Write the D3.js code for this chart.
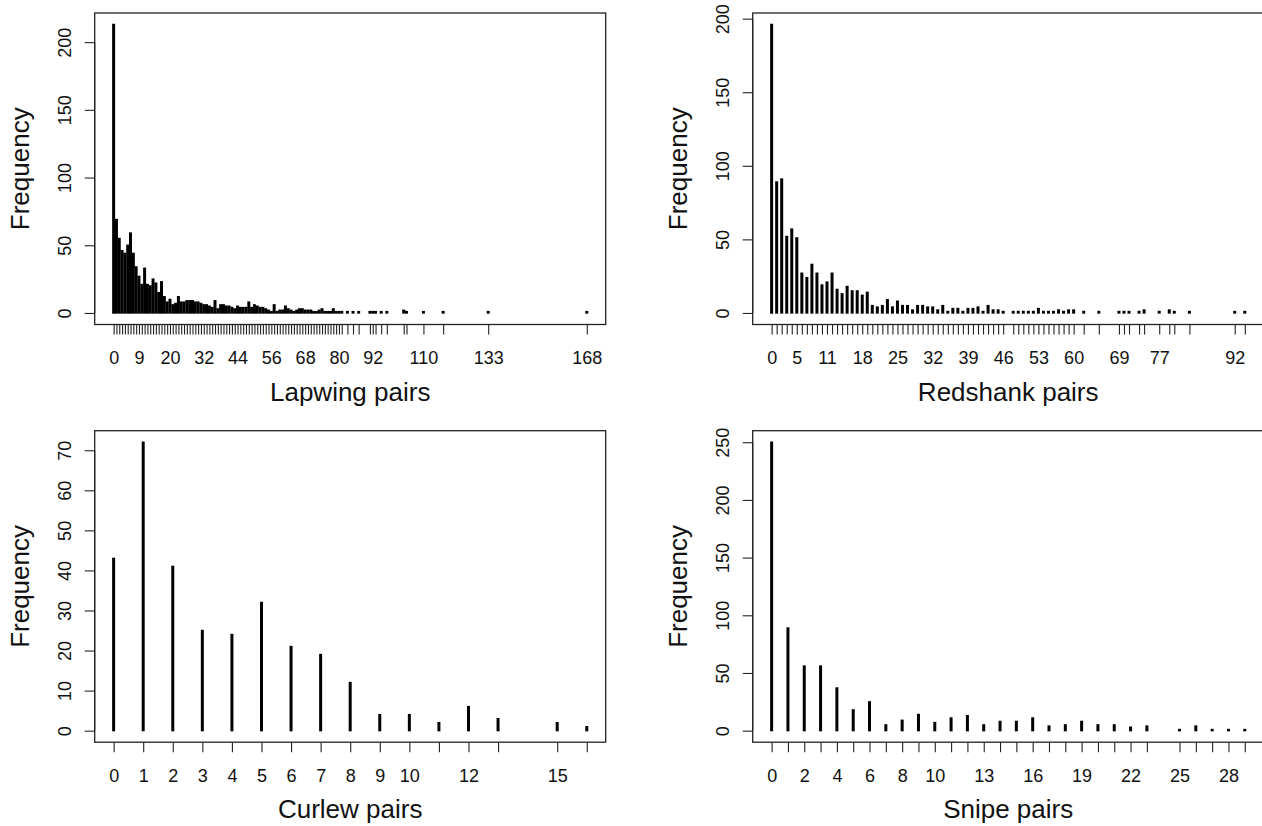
<!DOCTYPE html>
<head>
    <meta charset="utf-8">
    <title>Wader pairs frequency</title>
    <script type="text/javascript" src="https://d3js.org/d3.v7.min.js"></script>
    <style>
        body { margin: 0; background: #fff; }
        text { font-family: "Liberation Sans", Arial, sans-serif; fill: #111; }
    </style>
</head>
<body>
<div id="container"></div>

<script>
    //------------------------1. DATA------------------------//
    // Lapwing: every observed number of pairs and how often it occurs
    const lapwingPairs = d3.range(0, 82).concat([83, 85, 87, 91, 92, 93, 95, 97, 103, 104, 110, 117, 133, 168]);
    const lapwingFreq = [213, 69, 55, 46, 44, 50, 59, 44, 34, 27,
        21, 33, 21, 20, 25, 22, 15, 23, 12, 8,
        10, 6, 7, 12, 8, 8, 9, 9, 9, 8,
        8, 7, 6, 6, 5, 4, 9, 3, 6, 6,
        5, 5, 4, 3, 5, 4, 4, 4, 8, 4,
        6, 5, 4, 4, 3, 2, 1, 6, 1, 2,
        2, 5, 3, 2, 1, 2, 3, 3, 2, 2,
        2, 1, 1, 2, 3, 1, 1, 1, 3, 1,
        1, 1,
        1, 1, 1, 1, 1, 1, 1, 1, 2, 1, 1, 1, 1, 1];
    const lapwingLabels = [0, 9, 20, 32, 44, 56, 68, 80, 92, 110, 133, 168];
    const lapwingYTicks = [0, 50, 100, 150, 200];

    // Redshank
    const redshankPairs = d3.range(0, 47).concat(d3.range(48, 61), [62, 65, 69, 70, 71, 73, 74, 77, 79, 80, 83, 92, 94]);
    const redshankFreq = [196, 89, 91, 52, 57, 51, 27, 24, 33, 27,
        19, 21, 27, 16, 13, 18, 15, 15, 12, 14,
        5, 4, 5, 9, 4, 8, 5, 5, 2, 5,
        5, 4, 4, 2, 5, 1, 3, 3, 1, 3,
        3, 4, 1, 5, 2, 2, 1,
        1, 1, 1, 1, 1, 3, 1, 1, 1, 2, 1, 2, 2,
        1, 1, 1, 1, 1, 1, 2, 1, 2, 1, 1, 1, 1];
    const redshankLabels = [0, 5, 11, 18, 25, 32, 39, 46, 53, 60, 69, 77, 92];
    const redshankYTicks = [0, 50, 100, 150, 200];

    // Curlew
    const curlewPairs = [0, 1, 2, 3, 4, 5, 6, 7, 8, 9, 10, 11, 12, 13, 15, 16];
    const curlewFreq = [43, 72, 41, 25, 24, 32, 21, 19, 12, 4, 4, 2, 6, 3, 2, 1];
    const curlewLabels = [0, 1, 2, 3, 4, 5, 6, 7, 8, 9, 10, 12, 15];
    const curlewYTicks = [0, 10, 20, 30, 40, 50, 60, 70];

    // Snipe
    const snipePairs = d3.range(0, 24).concat([25, 26, 27, 28, 29]);
    const snipeFreq = [250, 89, 56, 56, 37, 18, 25, 5, 9, 14,
        7, 11, 13, 5, 8, 8, 11, 4, 5, 8,
        5, 5, 3, 4,
        1, 4, 1, 1, 1];
    const snipeLabels = [0, 2, 4, 6, 8, 10, 13, 16, 19, 22, 25, 28];
    const snipeYTicks = [0, 50, 100, 150, 200, 250];

    //------------------------2. LAYOUT------------------------//
    const width = 1262;
    const height = 826;
    const plotW = 511;
    const plotH = 311.5;

    const panels = [
        {title: "Lapwing pairs", pairs: lapwingPairs, freq: lapwingFreq, labels: lapwingLabels, yTicks: lapwingYTicks, left: 94.7, top: 13},
        {title: "Redshank pairs", pairs: redshankPairs, freq: redshankFreq, labels: redshankLabels, yTicks: redshankYTicks, left: 752.7, top: 13},
        {title: "Curlew pairs", pairs: curlewPairs, freq: curlewFreq, labels: curlewLabels, yTicks: curlewYTicks, left: 94.7, top: 430.7},
        {title: "Snipe pairs", pairs: snipePairs, freq: snipeFreq, labels: snipeLabels, yTicks: snipeYTicks, left: 752.7, top: 430.7}
    ];

    const svg = d3.select("#container").append("svg")
        .attr("width", width)
        .attr("height", height);

    //------------------------3. DRAWING------------------------//
    panels.forEach(function(p) {
        const g = svg.append("g").attr("transform", "translate(" + p.left + "," + p.top + ")");

        // R style ranges: data range padded by 4% on each side
        const xMin = d3.min(p.pairs), xMax = d3.max(p.pairs);
        const xPad = (xMax - xMin) * 0.04;
        const yMax = d3.max(p.freq);
        const xScale = d3.scaleLinear().domain([xMin - xPad, xMax + xPad]).range([0, plotW]);
        const yScale = d3.scaleLinear().domain([-yMax * 0.04, yMax * 1.04]).range([plotH, 0]);

        const rows = p.pairs.map(function(d, i) { return {pairs: d, freq: p.freq[i]}; });

        // spikes
        g.selectAll("line.spike")
            .data(rows)
            .enter()
            .append("line")
            .attr("class", "spike")
            .attr("x1", function(d) { return xScale(d.pairs); })
            .attr("x2", function(d) { return xScale(d.pairs); })
            .attr("y1", yScale(0) + 0.7)
            .attr("y2", function(d) { return yScale(d.freq) - 0.7; })
            .attr("stroke", "#000")
            .attr("stroke-width", 3);

        // box
        g.append("rect")
            .attr("width", plotW)
            .attr("height", plotH)
            .attr("fill", "none")
            .attr("stroke", "#222")
            .attr("stroke-width", 1.3);

        // x axis: a tick at every observed value, labels only where R kept them
        const xaxis = d3.axisBottom(xScale)
            .tickValues(p.pairs)
            .tickSize(10)
            .tickFormat(function(d) { return p.labels.indexOf(d) >= 0 ? d : ""; });

        const gx = g.append("g")
            .attr("transform", "translate(0," + plotH + ")")
            .call(xaxis);
        gx.select(".domain").remove();
        gx.selectAll("line").attr("stroke", "#222").attr("stroke-width", 1.1);
        gx.selectAll("text")
            .attr("y", 39.5)
            .attr("dy", null)
            .style("font-size", "18px")
            .style("fill", "#111");

        // y axis
        const yaxis = d3.axisLeft(yScale)
            .tickValues(p.yTicks)
            .tickSize(10);

        const gy = g.append("g").call(yaxis);
        gy.select(".domain").remove();
        gy.append("line")
            .attr("y1", yScale(p.yTicks[0]))
            .attr("y2", yScale(p.yTicks[p.yTicks.length - 1]))
            .attr("stroke", "#222");
        gy.selectAll("line").attr("stroke", "#222").attr("stroke-width", 1.1);
        gy.selectAll("text")
            .attr("transform", "rotate(-90)")
            .attr("x", 0)
            .attr("y", -24)
            .attr("dy", null)
            .style("text-anchor", "middle")
            .style("font-size", "18px")
            .style("fill", "#111");

        // axis titles
        g.append("text")
            .attr("x", plotW / 2)
            .attr("y", plotH + 76)
            .style("text-anchor", "middle")
            .style("font-size", "26px")
            .text(p.title);

        g.append("text")
            .attr("transform", "translate(" + (-66) + "," + (plotH / 2) + ") rotate(-90)")
            .style("text-anchor", "middle")
            .style("font-size", "26px")
            .text("Frequency");
    });
</script>
</body>
